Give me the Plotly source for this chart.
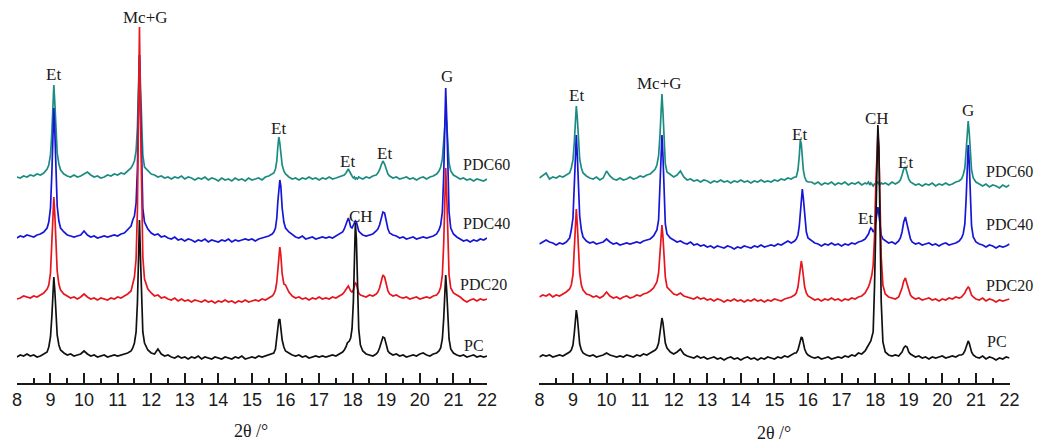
import plotly.graph_objects as go

# ---------------- data (2θ grid shared by every pattern) ----------------
X_GRID = [
    8.0, 8.1, 8.2, 8.3, 8.4, 8.5, 8.6, 8.7, 8.8, 8.9,
    8.95, 9.0, 9.04, 9.07, 9.1, 9.13, 9.16, 9.2, 9.25,
    9.3, 9.4, 9.5, 9.6, 9.7, 9.8, 9.9, 10.0, 10.1, 10.2, 10.3, 10.4, 10.5, 10.6, 10.7, 10.8, 10.9, 11.0, 11.1, 11.2, 11.3, 11.4,
    11.45, 11.5, 11.55, 11.59, 11.62, 11.65, 11.68, 11.71, 11.75, 11.8,
    11.9, 12.0, 12.1, 12.2, 12.3, 12.4, 12.5, 12.6, 12.7, 12.8, 12.9, 13.0, 13.1, 13.2, 13.3, 13.4, 13.5, 13.6, 13.7, 13.8,
    13.9, 14.0, 14.1, 14.2, 14.3, 14.4, 14.5, 14.6, 14.7, 14.8, 14.9, 15.0, 15.1, 15.2, 15.3, 15.4, 15.5, 15.6,
    15.65, 15.7, 15.74, 15.77, 15.8, 15.83, 15.86, 15.9, 15.95, 16.0,
    16.1, 16.2, 16.3, 16.4, 16.5, 16.6, 16.7, 16.8, 16.9, 17.0, 17.1, 17.2, 17.3, 17.4, 17.5, 17.6, 17.7,
    17.75, 17.8, 17.84, 17.87, 17.9, 17.94, 17.98, 18.02, 18.05, 18.08, 18.11, 18.14, 18.18, 18.23,
    18.3, 18.4, 18.5, 18.6, 18.7,
    18.75, 18.8, 18.85, 18.9, 18.95, 19.0, 19.05,
    19.1, 19.2, 19.3, 19.4, 19.5, 19.6, 19.7, 19.8, 19.9, 20.0, 20.1, 20.2, 20.3, 20.4, 20.5,
    20.57, 20.62, 20.67, 20.71, 20.74, 20.77, 20.8, 20.83, 20.87, 20.92,
    21.0, 21.1, 21.2, 21.3, 21.4, 21.5, 21.6, 21.7, 21.8, 21.9, 22.0,
]

# ----- left panel intensities (relative, a.u.) -----
LEFT_PC = [
    0, 2, 1, 3, 1, 2, 0, 1, 3, 5,
    10, 20, 40, 64, 80, 66, 42, 22, 12,
    7, 4, 2, 3, 1, 2, 3, 6, 3, 1, 2, 0, 1, 2, 0, 1, 2, 1, 2, 3, 4, 6,
    9, 14, 25, 55, 100, 137, 100, 55, 25, 14,
    7, 4, 3, 8, 3, 1, 2, 0, -1, 1, -1, 0, -2, 0, -1, 1, -2, 0, -1, -2,
    0, -1, -2, 0, -1, -2, 0, -1, 1, -2, -1, 0, -1, 1, 0, 1, 2, 3,
    4, 8, 18, 30, 37, 38, 28, 17, 10, 6,
    4, 2, 1, 2, 0, 1, -1, 0, 1, 0, 1, 0, 1, 2, 1, 3, 5,
    7, 10, 14, 15, 16, 19, 28, 55, 100, 134, 118, 65, 28, 12,
    6, 3, 2, 1, 3,
    5, 9, 16, 20, 19, 11, 6,
    4, 2, 3, 1, 2, 0, 1, 2, 1, 3, 4, 2, 1, 3, 4,
    6, 9, 18, 38, 64, 82, 66, 40, 18, 8,
    4, 2, 1, 2, 0, 1, 2, 0, 1, 0, 1,
]
LEFT_PDC20 = [
    0, 1, 3, 2, 1, 3, 2, 4, 6, 10,
    14, 26, 52, 82, 102, 84, 54, 28, 15,
    9, 5, 3, 1, 2, 0, 2, 5, 2, 0, 1, -1, 1, 0, -1, 1, 0, 2, 1, 3, 5, 8,
    14, 22, 40, 90, 180, 272, 185, 95, 42, 20,
    10, 6, 3, 4, 1, 2, 0, -1, 1, -2, 0, -2, -1, -3, -1, -2, -3, -1, -3, -2,
    -4, -2, -3, -1, -3, -2, -4, -2, -3, -1, -3, -2, -1, -2, 0, -1, 1, 3,
    5, 9, 17, 32, 46, 52, 44, 25, 15, 14,
    7, 3, 1, 2, 0, 1, -1, 1, 0, 2, 0, 1, 0, 2, 1, 3, 5,
    7, 10, 12, 13, 11, 8, 7, 9, 13, 16, 15, 10, 6, 4,
    3, 2, 4, 3, 5,
    7, 11, 19, 24, 22, 13, 8,
    5, 3, 4, 2, 1, 2, 0, 1, 2, 0, 1, 2, 1, 3, 4,
    7, 12, 24, 55, 100, 131, 105, 58, 24, 11,
    6, 4, 2, -1, -3, -1, 0, -2, 0, -1, 0,
]
LEFT_PDC40 = [
    0, 2, 1, 3, 2, 1, 3, 4, 6, 10,
    16, 30, 64, 102, 130, 106, 66, 32, 17,
    10, 6, 3, 2, 1, 2, 3, 7, 3, 1, 2, 0, 1, 2, 1, 2, 3, 2, 4, 5, 8, 12,
    18, 22, 35, 70, 130, 183, 135, 70, 30, 16,
    9, 5, 3, 4, 1, 2, 0, -1, 1, -2, -1, -3, -1, -2, -4, -2, -3, -1, -4, -2,
    -3, -4, -2, -3, -1, -4, -2, -3, -2, -1, -2, -1, -3, -1, 0, 1, 2, 4,
    6, 10, 20, 36, 50, 58, 52, 30, 16, 10,
    6, 3, 1, 0, 2, -1, 0, 1, -1, 0, 1, 0, 1, 0, 2, 4, 6,
    9, 14, 19, 20, 17, 11, 10, 13, 16, 17, 16, 11, 7, 5,
    3, 2, 3, 4, 7,
    9, 13, 21, 26, 25, 15, 9,
    5, 3, 2, 0, 1, -1, 0, 1, -1, 0, 1, 0, 1, 2, 4,
    8, 13, 26, 62, 115, 150, 120, 64, 26, 10,
    4, 1, -1, -3, -2, -4, -2, -3, -1, -2, 0,
]
LEFT_PDC60 = [
    0, -1, 1, 0, 2, 1, 3, 2, 4, 8,
    12, 22, 44, 72, 92, 74, 46, 24, 13,
    7, 3, 1, 0, 2, 0, 1, 3, 5, 2, 0, 1, -1, 0, 2, 1, 3, 2, 4, 3, 6, 9,
    12, 16, 26, 50, 90, 122, 92, 50, 22, 10,
    6, 3, 2, 0, 1, -1, 0, -2, 0, -1, 1, -2, 0, -1, -3, -1, -2, 0, -3, -1,
    -2, -4, -1, -3, -2, -4, -1, -3, -2, -4, -1, -3, -2, -1, -3, 0, 1, 3,
    4, 8, 16, 30, 40, 34, 22, 12, 6, 3,
    0, -2, -1, -3, -1, -2, 0, -2, -1, -3, -1, -2, 0, -2, -1, 0, 1,
    2, 4, 7, 8, 6, 3, 1, -1, 0, -2, -1, -2, 0, -1,
    -2, 0, -1, 1, 2,
    4, 7, 12, 16, 13, 7, 3,
    1, -1, 0, -2, -1, 0, -2, -1, -3, -1, 0, -2, 0, 1, 3,
    6, 10, 18, 36, 52, 62, 54, 34, 14, 6,
    2, 0, -2, -1, -3, -2, -4, -2, -3, -4, -2,
]

# ----- right panel intensities (relative, a.u.) -----
RIGHT_PC = [
    0, 2, 1, 2, 0, 1, 2, 1, 3, 5,
    7, 12, 24, 38, 47, 40, 26, 13, 7,
    4, 2, 1, 2, 0, 1, 2, 4, 2, 1, 0, 1, 0, 2, 1, 0, 2, 1, 3, 2, 4, 6,
    7, 9, 14, 24, 34, 39, 34, 24, 14, 9,
    5, 3, 5, 8, 3, 1, 0, -1, 1, -1, 0, -2, -1, 0, -2, -1, -3, -1, 0, -2,
    -1, -3, -1, 0, -2, -1, -3, -1, -2, 0, -1, -2, 0, -1, 1, 0, 2, 4,
    4, 7, 12, 17, 20, 19, 14, 8, 4, 2,
    0, -1, 0, -2, -1, 0, -2, -1, 0, -1, 1, 0, 2, 1, 4, 3, 6,
    9, 12, 14, 16, 20, 25, 70, 150, 210, 232, 210, 140, 55, 15,
    5, 2, 1, 2, 1,
    3, 5, 9, 11, 10, 5, 3,
    2, 0, 1, -1, 0, -2, 0, -1, 0, 1, -1, 0, 1, 0, 2,
    2, 3, 6, 10, 14, 16, 14, 9, 5, 2,
    0, -1, 1, -2, 0, -1, -3, -1, -2, 0, -1,
]
RIGHT_PDC20 = [
    0, 2, 1, 3, 0, 2, 1, 3, 5, 8,
    12, 22, 44, 70, 88, 72, 46, 24, 12,
    7, 3, 2, 0, 1, -1, 1, 5, 1, -1, 0, -2, 0, 1, -1, 0, 2, 1, 3, 4, 6, 9,
    12, 15, 24, 44, 62, 72, 60, 40, 20, 10,
    6, 3, 2, 4, 1, 0, -1, -2, 0, -2, -1, -3, -2, -4, -2, -3, -5, -3, -4, -2,
    -4, -3, -5, -3, -4, -2, -4, -3, -5, -3, -4, -2, -3, -4, -2, -1, 0, 2,
    4, 10, 22, 33, 36, 30, 20, 10, 4, 1,
    -1, -3, -2, -4, -2, -3, -1, -3, -2, -4, -2, -3, -1, -2, 0, 1, 4,
    7, 10, 14, 17, 22, 32, 60, 115, 150, 163, 148, 100, 40, 12,
    3, 0, -1, -2, 0,
    4, 9, 16, 19, 13, 6, 2,
    0, -2, -1, -3, -2, -1, -3, -2, -4, -2, -3, -1, -2, 0, -1,
    0, 2, 4, 7, 9, 10, 9, 5, 2, 0,
    -2, -3, -1, -4, -2, -3, -5, -3, -4, -3, -2,
]
RIGHT_PDC40 = [
    0, 2, 4, 2, 1, -1, 1, 0, 2, 6,
    14, 26, 54, 86, 109, 88, 56, 28, 14,
    7, 3, 1, 2, 0, 1, 2, 5, 2, 0, 1, -1, 0, 1, 0, 1, 2, 1, 3, 4, 5, 8,
    11, 14, 24, 52, 86, 109, 88, 50, 20, 10,
    6, 4, 2, 3, 1, 0, 2, -1, 0, -2, -1, -3, -2, -4, -2, -3, -4, -2, -3, -5,
    -3, -4, -2, -3, -4, -2, -3, -1, -3, -2, -1, -2, 0, -1, 1, 3, 1, 3,
    5, 9, 18, 32, 48, 55, 46, 26, 12, 6,
    3, 1, 0, -2, 0, -1, 1, -1, 0, -2, 0, -1, 1, 0, 2, 3, 5,
    8, 10, 14, 16, 15, 12, 14, 24, 34, 37, 30, 18, 9, 5,
    3, 1, 2, 0, 3,
    6, 12, 22, 27, 20, 10, 5,
    2, 0, 1, -1, 0, 1, -1, 0, -2, 0, 1, -1, 0, 1, 3,
    6, 10, 20, 46, 80, 99, 82, 46, 18, 7,
    2, 0, -1, -3, -1, -2, -4, -2, -3, -2, 0,
]
RIGHT_PDC60 = [
    0, 3, 5, -1, 1, 0, 2, 1, 3, 5,
    10, 18, 36, 58, 72, 60, 38, 19, 10,
    5, 2, 0, -1, 1, -2, 0, 7, 2, -1, -2, 0, -2, -1, 1, -1, 0, 2, 1, 3, 4, 7,
    9, 13, 22, 42, 68, 84, 66, 36, 14, 6,
    3, 1, 3, 7, 1, -2, -1, -3, -2, -4, -2, -3, -5, -3, -4, -2, -4, -3, -5, -3,
    -4, -2, -4, -3, -5, -3, -4, -2, -4, -3, -4, -2, -3, -1, -2, 0, -1, 1,
    1, 8, 22, 38, 34, 20, 8, 1, -3, -4,
    -4, -6, -4, -7, -5, -6, -4, -7, -5, -6, -4, -7, -5, -6, -4, -7, -5,
    -6, -4, -7, -5, -6, -8, -6, -7, -5, -4, -6, -7, -5, -6,
    -5, -7, -4, -6, -4,
    -2, 3, 9, 11, 5, -1, -4,
    -5, -7, -6, -8, -6, -7, -5, -8, -6, -7, -5, -7, -6, -4, -3,
    -1, 3, 10, 28, 46, 57, 46, 26, 8, 0,
    -4, -6, -8, -6, -9, -7, -8, -10, -7, -9, -7,
]

SAMPLES = ["PDC60", "PDC40", "PDC20", "PC"]          # drawing order (PC on top)
LEFT_DATA = {"PC": LEFT_PC, "PDC20": LEFT_PDC20, "PDC40": LEFT_PDC40, "PDC60": LEFT_PDC60}
RIGHT_DATA = {"PC": RIGHT_PC, "PDC20": RIGHT_PDC20, "PDC40": RIGHT_PDC40, "PDC60": RIGHT_PDC60}

X_TITLE = "2θ /°"

# ---------------- styles / layout constants ----------------
COLORS = {"PC": "#111111", "PDC20": "#e6161e", "PDC40": "#1616d8", "PDC60": "#1c8c82"}
OFFSET_LEFT = {"PC": 26, "PDC20": 84, "PDC40": 145, "PDC60": 206}
OFFSET_RIGHT = {"PC": 26, "PDC20": 86, "PDC40": 139, "PDC60": 205}

# (text, x, y) annotation positions for each panel
LABELS_LEFT = [
    ("Mc+G", 11.82, 366), ("Et", 9.10, 309), ("G", 20.81, 307), ("Et", 15.79, 255),
    ("Et", 17.86, 222), ("Et", 18.96, 230), ("CH", 18.26, 167),
]
NAMES_LEFT = [("PDC60", 21.99, 219), ("PDC40", 21.99, 160), ("PDC20", 21.91, 99), ("PC", 21.62, 38)]
LABELS_RIGHT = [
    ("Et", 9.115, 288), ("Mc+G", 11.58, 300), ("Et", 15.76, 249), ("CH", 18.05, 265),
    ("Et", 18.90, 221), ("G", 20.77, 273), ("Et", 17.70, 165),
]
NAMES_RIGHT = [("PDC60", 22.0, 212), ("PDC40", 22.0, 159), ("PDC20", 22.0, 98), ("PC", 21.62, 42)]

for arr in list(LEFT_DATA.values()) + list(RIGHT_DATA.values()):
    assert len(arr) == len(X_GRID), len(arr)

W, H = 1059, 445
PLOT_H = 383
SERIF = "Liberation Serif, Times New Roman, serif"
SANS = "Liberation Sans, Arial, sans-serif"
INK = "#1a1a1a"

fig = go.Figure()
for data, offs, xa, ya in [(LEFT_DATA, OFFSET_LEFT, "x", "y"), (RIGHT_DATA, OFFSET_RIGHT, "x2", "y2")]:
    for s in SAMPLES:
        fig.add_trace(go.Scatter(
            x=X_GRID, y=[v + offs[s] for v in data[s]],
            mode="lines", line=dict(color=COLORS[s], width=1.7),
            xaxis=xa, yaxis=ya, showlegend=False, hoverinfo="skip",
        ))

annotations = []
for labels, xr, yr in [(LABELS_LEFT, "x", "y"), (LABELS_RIGHT, "x2", "y2")]:
    for t, x, y in labels:
        annotations.append(dict(text=t, x=x, y=y, xref=xr, yref=yr, showarrow=False,
                                font=dict(family=SERIF, size=17, color=INK)))
for names, xr, yr in [(NAMES_LEFT, "x", "y"), (NAMES_RIGHT, "x2", "y2")]:
    for t, x, y in names:
        annotations.append(dict(text=t, x=x, y=y, xref=xr, yref=yr, showarrow=False,
                                font=dict(family=SERIF, size=16, color=INK)))
# axis titles below each panel (paper coordinates, pixel positions of the reference)
annotations.append(dict(text=X_TITLE, x=250 / W, y=(PLOT_H - 431) / PLOT_H, xref="paper", yref="paper",
                        xanchor="center", yanchor="middle", showarrow=False,
                        font=dict(family=SERIF, size=18, color=INK)))
annotations.append(dict(text=X_TITLE, x=780 / W, y=(PLOT_H - 433) / PLOT_H, xref="paper", yref="paper",
                        xanchor="center", yanchor="middle", showarrow=False,
                        font=dict(family=SERIF, size=18, color=INK)))


def xaxis_style(domain, anchor):
    return dict(
        domain=domain, anchor=anchor, range=[7.998, 22.002],
        tickmode="linear", tick0=8, dtick=1,
        ticks="inside", ticklen=10, tickwidth=1.5, tickcolor=INK,
        showline=True, linecolor=INK, linewidth=1.5,
        showgrid=False, zeroline=False,
        tickfont=dict(family=SANS, size=18, color=INK),
        minor=dict(dtick=0.5, tick0=8, ticks="inside", ticklen=5, tickwidth=1.5,
                   tickcolor=INK, showgrid=False),
    )


def yaxis_style(anchor):
    return dict(domain=[0, 1], anchor=anchor, range=[0, PLOT_H], visible=False,
                showgrid=False, zeroline=False)


fig.update_layout(
    width=W, height=H,
    margin=dict(l=0, r=0, t=0, b=H - PLOT_H),
    paper_bgcolor="white", plot_bgcolor="white",
    xaxis=xaxis_style([12 / W, 489 / W], "y"),
    xaxis2=xaxis_style([542 / W, 1019 / W], "y2"),
    yaxis=yaxis_style("x"),
    yaxis2=yaxis_style("x2"),
    annotations=annotations,
)

fig.write_html("out.html", config={"displayModeBar": False})
